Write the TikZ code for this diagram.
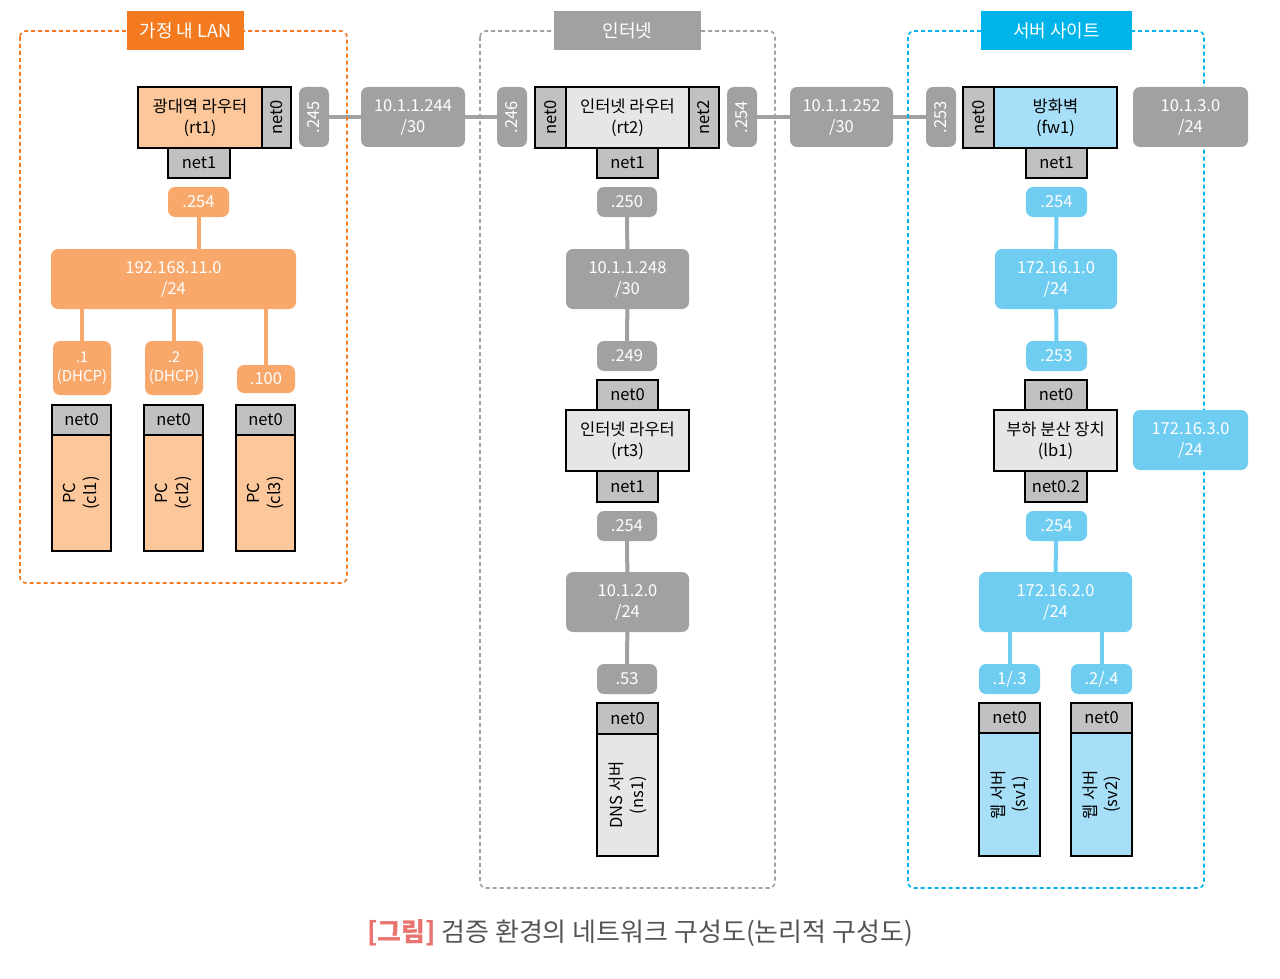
\documentclass[tikz,border=0pt]{standalone}
\usepackage{fontspec}
\setmainfont{Noto Sans CJK KR}
\usetikzlibrary{backgrounds}
\definecolor{ordk}{HTML}{F47A20}
\definecolor{orpill}{HTML}{F8A86A}
\definecolor{orbox}{HTML}{FCC79A}
\definecolor{gpill}{HTML}{A0A1A3}
\definecolor{gbox}{HTML}{C0C1C3}
\definecolor{gin}{HTML}{E6E6E7}
\definecolor{cyt}{HTML}{00B4EA}
\definecolor{bpill}{HTML}{6FCDF2}
\definecolor{bbox}{HTML}{A6DFF7}
\definecolor{capr}{HTML}{E8736F}
\definecolor{capg}{HTML}{555555}
\tikzset{
 base/.style={inner sep=0pt, align=center, font=\fontsize{16.5}{21}\selectfont},
 gp/.style={base, fill=gpill, text=white, rounded corners=7pt},
 op/.style={base, fill=orpill, text=white, rounded corners=7pt},
 bp/.style={base, fill=bpill, text=white, rounded corners=7pt},
 nb/.style={base, draw=black, line width=1.2pt, fill=gbox},
 ib/.style={base, draw=black, line width=1.2pt, fill=gin},
 ob/.style={base, draw=black, line width=1.2pt, fill=orbox},
 sb/.style={base, draw=black, line width=1.2pt, fill=bbox},
 gl/.style={draw=gpill, line width=4pt},
 ol/.style={draw=orpill, line width=4pt},
 bl/.style={draw=bpill, line width=4pt},
 title/.style={base, font=\fontsize{18}{21}\selectfont, text=white},
}
\newcommand{\Rb}[7]{\node[#6, minimum width={#4-#2}, minimum height={#5-#3}] (#1) at ({(#2+#4)/2},{(#3+#5)/2}) {#7};}
\begin{document}
\begin{tikzpicture}[x=1pt,y=-1pt]
\useasboundingbox (0,0) rectangle (1280,979);
% frames
\draw[ordk, line width=1.6pt, dash pattern=on 4pt off 3pt, rounded corners=6pt] (20,31) rectangle (347,583);
\draw[gpill, line width=1.6pt, dash pattern=on 4pt off 3pt, rounded corners=6pt] (480,31) rectangle (775,888);
\draw[cyt, line width=1.6pt, dash pattern=on 4pt off 3pt, rounded corners=6pt] (908,31) rectangle (1204,888);
\Rb{t1}{127}{11}{244}{50}{title, fill=ordk}{가정 내 LAN}
\Rb{t2}{554}{11}{701}{50}{title, fill=gpill}{인터넷}
\Rb{t3}{981}{11}{1132}{50}{title, fill=cyt}{서버 사이트}
% top row
\Rb{rt1}{138}{87}{262}{148}{ob}{광대역 라우터\\(rt1)}
\Rb{rt1n0}{262}{87}{291}{148}{nb}{}
\node[base, rotate=90] at (rt1n0) {net0};
\Rb{rt1n1}{168}{148}{230}{178}{nb}{net1}
\Rb{p245}{299}{87}{329}{147}{gp}{}
\node[base, rotate=90, text=white] at (p245) {.245};
\Rb{n244}{361}{87}{465}{147}{gp}{10.1.1.244\\/30}
\Rb{p246}{497}{87}{527}{147}{gp}{}
\node[base, rotate=90, text=white] at (p246) {.246};
\Rb{rt2n0}{535}{87}{566}{148}{nb}{}
\node[base, rotate=90] at (rt2n0) {net0};
\Rb{rt2}{566}{87}{689}{148}{ib}{인터넷 라우터\\(rt2)}
\Rb{rt2n2}{689}{87}{719}{148}{nb}{}
\node[base, rotate=90] at (rt2n2) {net2};
\Rb{rt2n1}{597}{148}{658}{178}{nb}{net1}
\Rb{p254a}{727}{87}{757}{147}{gp}{}
\node[base, rotate=90, text=white] at (p254a) {.254};
\Rb{n252}{790}{87}{893}{147}{gp}{10.1.1.252\\/30}
\Rb{p253a}{926}{87}{956}{147}{gp}{}
\node[base, rotate=90, text=white] at (p253a) {.253};
\Rb{fw1n0}{963}{87}{994}{148}{nb}{}
\node[base, rotate=90] at (fw1n0) {net0};
\Rb{fw1}{994}{87}{1117}{148}{sb}{방화벽\\(fw1)}
\Rb{fw1n1}{1026}{148}{1087}{178}{nb}{net1}
\Rb{n13}{1133}{87}{1248}{147}{gp}{10.1.3.0\\/24}
% left
\Rb{lp254}{168}{187}{229}{217}{op}{.254}
\Rb{lan}{51}{249}{296}{309}{op}{192.168.11.0\\/24}
\Rb{lp1}{53}{341}{111}{395}{op, font=\fontsize{15}{19}\selectfont}{.1\\(DHCP)}
\Rb{lp2}{145}{341}{203}{395}{op, font=\fontsize{15}{19}\selectfont}{.2\\(DHCP)}
\Rb{lp100}{237}{365}{295}{393}{op}{.100}
\Rb{c1n}{52}{405}{111}{435}{nb}{net0}
\Rb{c1}{52}{435}{111}{551}{ob}{}
\node[base, rotate=90, align=center] at (c1) {PC\\(cl1)};
\Rb{c2n}{144}{405}{203}{435}{nb}{net0}
\Rb{c2}{144}{435}{203}{551}{ob}{}
\node[base, rotate=90, align=center] at (c2) {PC\\(cl2)};
\Rb{c3n}{236}{405}{295}{435}{nb}{net0}
\Rb{c3}{236}{435}{295}{551}{ob}{}
\node[base, rotate=90, align=center] at (c3) {PC\\(cl3)};
% middle
\Rb{mp250}{597}{187}{657}{217}{gp}{.250}
\Rb{n248}{566}{249}{689}{309}{gp}{10.1.1.248\\/30}
\Rb{mp249}{597}{341}{657}{371}{gp}{.249}
\Rb{rt3n0}{597}{380}{658}{410}{nb}{net0}
\Rb{rt3}{566}{410}{689}{471}{ib}{인터넷 라우터\\(rt3)}
\Rb{rt3n1}{597}{471}{658}{502}{nb}{net1}
\Rb{mp254}{597}{511}{657}{541}{gp}{.254}
\Rb{n12}{566}{572}{689}{632}{gp}{10.1.2.0\\/24}
\Rb{mp53}{597}{664}{657}{694}{gp}{.53}
\Rb{ns1n}{597}{703}{658}{734}{nb}{net0}
\Rb{ns1}{597}{734}{658}{856}{ib}{}
\node[base, rotate=90, align=center] at (ns1) {DNS 서버\\(ns1)};
% right
\Rb{rp254}{1026}{187}{1087}{217}{bp}{.254}
\Rb{n161}{995}{249}{1117}{309}{bp}{172.16.1.0\\/24}
\Rb{rp253}{1026}{341}{1087}{371}{bp}{.253}
\Rb{lb1n0}{1025}{380}{1087}{410}{nb}{net0}
\Rb{lb1}{994}{410}{1117}{471}{ib}{부하 분산 장치\\(lb1)}
\Rb{lb1n2}{1025}{471}{1087}{502}{nb}{net0.2}
\Rb{rp254b}{1026}{511}{1087}{541}{bp}{.254}
\Rb{n162}{979}{572}{1132}{632}{bp}{172.16.2.0\\/24}
\Rb{rp13}{979}{664}{1040}{694}{bp}{.1/.3}
\Rb{rp24}{1071}{664}{1132}{694}{bp}{.2/.4}
\Rb{sv1n}{979}{703}{1040}{733}{nb}{net0}
\Rb{sv1}{979}{733}{1040}{856}{sb}{}
\node[base, rotate=90, align=center] at (sv1) {웹 서버\\(sv1)};
\Rb{sv2n}{1071}{703}{1132}{733}{nb}{net0}
\Rb{sv2}{1071}{733}{1132}{856}{sb}{}
\node[base, rotate=90, align=center] at (sv2) {웹 서버\\(sv2)};
\Rb{n163}{1133}{410}{1248}{470}{bp}{172.16.3.0\\/24}
% caption
\node[base, font=\fontsize{26}{30}\selectfont] (cap) at (640,933) {\textcolor{capr}{\textbf{[그림]}} \textcolor{capg}{검증 환경의 네트워크 구성도(논리적 구성도)}};
% connectors
\begin{scope}[on background layer]
\draw[gl] (p245) -- (n244) -- (p246);
\draw[gl] (p254a) -- (n252) -- (p253a);
\draw[ol] (lp254) -- (lp254 |- lan.north);
\draw[ol] (lp1.north) -- (lp1 |- lan.south);
\draw[ol] (lp2.north) -- (lp2 |- lan.south);
\draw[ol] (lp100.north) -- (lp100 |- lan.south);
\draw[gl] (mp250) -- (n248) -- (mp249);
\draw[gl] (mp254) -- (n12) -- (mp53);
\draw[bl] (rp254) -- (n161) -- (rp253);
\draw[bl] (rp254b) -- (n162.north);
\draw[bl] (rp13.north) -- (rp13 |- n162.south);
\draw[bl] (rp24.north) -- (rp24 |- n162.south);
\end{scope}
\end{tikzpicture}
\end{document}
